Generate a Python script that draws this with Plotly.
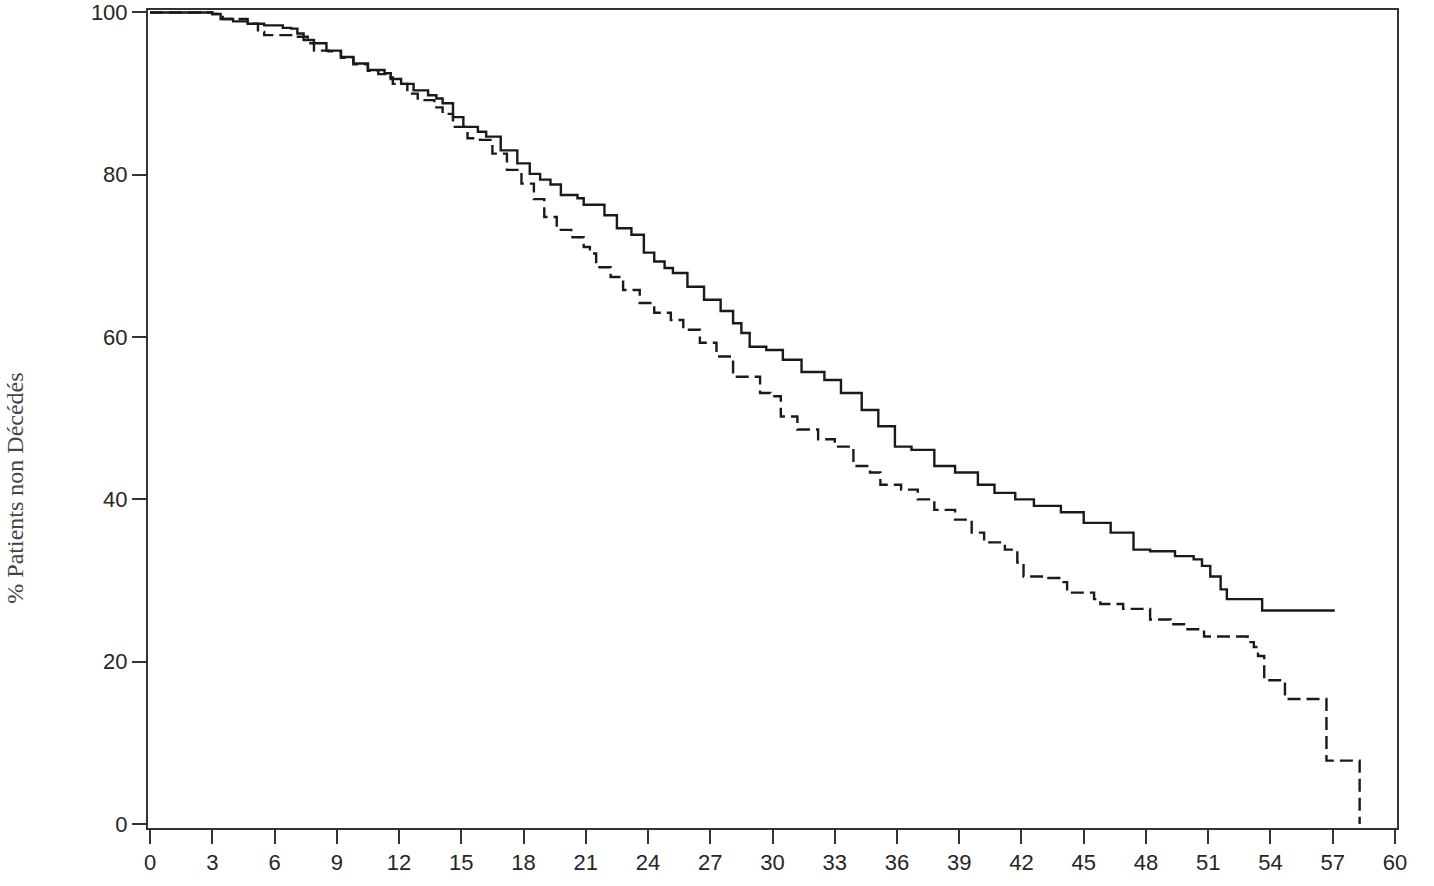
import plotly.graph_objects as go

# Solid curve (Kaplan-Meier, group 1)
solid_months = [0, 3.0, 3.4, 4.0, 4.7, 5.5, 6.4, 6.8, 7.1, 7.4, 7.9, 8.5, 9.2, 9.8, 10.5, 11.3, 11.6,
                12.1, 12.7, 13.4, 13.8, 14.1, 14.6, 15.1, 15.8, 16.2, 16.9, 17.7, 18.3, 18.8, 19.3,
                19.8, 20.6, 20.9, 21.9, 22.5, 23.2, 23.8, 24.3, 24.8, 25.2, 25.9, 26.7, 27.5, 28.1,
                28.5, 28.9, 29.7, 30.5, 31.4, 32.5, 33.3, 34.3, 35.1, 35.9, 36.7, 37.8, 38.8, 39.9,
                40.7, 41.7, 42.6, 43.9, 45.0, 46.3, 47.4, 48.2, 49.4, 50.3, 50.7, 51.1, 51.6, 51.9,
                53.6, 57.1]
solid_surv = [100, 99.8, 99.2, 98.9, 98.6, 98.4, 98.1, 98.0, 97.4, 96.6, 96.2, 95.3, 94.5, 93.7, 92.9,
              92.5, 91.8, 91.2, 90.4, 89.8, 89.4, 88.8, 87.1, 85.9, 85.3, 84.7, 83.0, 81.4, 80.1, 79.4,
              78.8, 77.5, 77.1, 76.3, 75.0, 73.4, 72.6, 70.4, 69.3, 68.5, 67.9, 66.2, 64.6, 63.2, 61.7,
              60.5, 58.8, 58.4, 57.2, 55.7, 54.7, 53.1, 51.0, 49.0, 46.5, 46.1, 44.1, 43.3, 41.8, 40.8,
              40.0, 39.2, 38.4, 37.1, 35.9, 33.8, 33.6, 33.0, 32.6, 31.8, 30.5, 28.9, 27.7, 26.3, 26.3]

# Dashed curve (group 2)
dashed_months = [0, 3.0, 3.5, 4.7, 5.2, 5.5, 6.9, 7.6, 7.9, 8.6, 9.2, 9.8, 10.5, 11.0, 11.4, 11.7,
                 12.4, 12.9, 13.7, 14.1, 14.6, 15.3, 15.9, 16.5, 17.2, 17.9, 18.5, 19.0, 19.6, 20.3,
                 20.9, 21.2, 21.5, 22.2, 22.8, 23.6, 24.3, 25.1, 25.7, 26.5, 27.3, 28.1, 29.4, 29.9,
                 30.4, 31.2, 32.2, 33.0, 33.9, 34.7, 35.2, 36.2, 37.0, 37.8, 38.8, 39.6, 40.2, 41.2,
                 41.8, 42.1, 43.3, 43.9, 44.2, 45.5, 45.8, 46.9, 48.2, 49.2, 50.0, 50.8, 52.9, 53.2,
                 53.4, 53.7, 54.7, 56.7, 58.3]
dashed_surv = [100, 99.8, 99.2, 98.6, 97.6, 97.2, 97.0, 96.2, 95.3, 95.2, 94.4, 93.6, 92.8, 92.4,
               92.0, 91.2, 90.0, 89.2, 88.3, 87.5, 85.9, 84.5, 84.3, 82.6, 80.6, 78.9, 77.0, 74.8,
               73.2, 72.3, 71.1, 70.3, 68.6, 67.4, 65.8, 64.2, 63.0, 62.1, 60.9, 59.3, 57.6, 55.1,
               53.1, 52.7, 50.2, 48.6, 47.4, 46.5, 44.1, 43.3, 41.8, 41.2, 40.0, 38.7, 37.5, 35.9,
               34.7, 33.8, 32.2, 30.5, 30.3, 29.8, 28.5, 27.7, 27.1, 26.5, 25.2, 24.6, 24.0, 23.1,
               22.4, 21.8, 20.7, 17.7, 15.4, 7.8, 0]

x_ticks = list(range(0, 61, 3))
y_ticks = [0, 20, 40, 60, 80, 100]
y_title = "% Patients non Décédés"

fig = go.Figure()
fig.add_trace(go.Scatter(x=solid_months, y=solid_surv, mode="lines", line_shape="hv",
                         line=dict(color="#1a1a1a", width=2.4), showlegend=False))
fig.add_trace(go.Scatter(x=dashed_months, y=dashed_surv, mode="lines", line_shape="hv",
                         line=dict(color="#1a1a1a", width=2.4, dash="13px,6px"), showlegend=False))

axis_font = dict(family="Liberation Sans, Arial, sans-serif", size=22, color="#262626")
fig.update_xaxes(range=[-0.1, 60.1], tickvals=x_ticks, ticktext=[str(v) for v in x_ticks],
                 showgrid=False, zeroline=False, showline=True, linecolor="#333333", linewidth=2,
                 mirror=True, ticks="outside", ticklen=14, tickwidth=2, tickcolor="#333333",
                 tickfont=axis_font, automargin=False, ticklabeloverflow="allow")
fig.update_yaxes(range=[-0.5, 100.3], tickvals=y_ticks, ticktext=[str(v) for v in y_ticks],
                 showgrid=False, zeroline=False, showline=True, linecolor="#333333", linewidth=2,
                 mirror=True, ticks="outside", ticklen=14, tickwidth=2, tickcolor="#333333",
                 tickfont=axis_font, automargin=False, ticklabeloverflow="allow")
fig.add_annotation(text=y_title, xref="paper", yref="paper", x=-0.1065, y=0.416,
                   xanchor="center", yanchor="middle", textangle=-90, showarrow=False,
                   font=dict(family="Liberation Serif, Times New Roman, serif", size=24, color="#444444"))
fig.update_layout(width=1434, height=886, margin=dict(l=148, r=37, t=10, b=58, autoexpand=False),
                  plot_bgcolor="white", paper_bgcolor="white")
fig.write_html("out.html", config={"displayModeBar": False},
               post_script="document.body.style.margin='0';")
